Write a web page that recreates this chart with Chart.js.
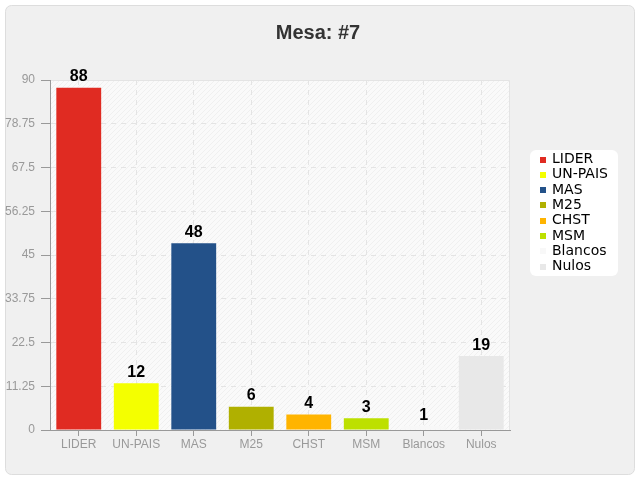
<!DOCTYPE html>
<html>
<head>
<meta charset="utf-8">
<script src="https://cdn.jsdelivr.net/npm/chart.js@4"></script>
<style>
  html, body { margin: 0; padding: 0; background: #fff; }
  #wrap { width: 640px; height: 480px; }
</style>
</head>
<body>
<div id="wrap"><canvas id="myChart" width="640" height="480"></canvas></div>
<script>
const categories = ['LIDER', 'UN-PAIS', 'MAS', 'M25', 'CHST', 'MSM', 'Blancos', 'Nulos'];
const votes = [88, 12, 48, 6, 4, 3, 1, 19];
const barColors = ['#e02b22', '#f4ff00', '#235189', '#b0b000', '#ffb400', '#bde000', '#f8f8f8', '#e8e8e8'];
const yTicks = [0, 11.25, 22.5, 33.75, 45, 56.25, 67.5, 78.75, 90];
const chartTitle = 'Mesa: #7';

// frame, plot background, title and legend box
const backdrop = {
  id: 'backdrop',
  beforeDraw(chart) {
    const ctx = chart.ctx;
    const a = chart.chartArea;
    ctx.save();
    ctx.fillStyle = '#ffffff';
    ctx.fillRect(0, 0, chart.width, chart.height);
    ctx.beginPath();
    ctx.roundRect(5.5, 5.5, 629, 469, 6);
    ctx.fillStyle = '#f0f0f0';
    ctx.fill();
    ctx.strokeStyle = '#dddddd';
    ctx.stroke();
    // title centred on the whole chart
    ctx.font = 'bold 20px "Liberation Sans", sans-serif';
    ctx.fillStyle = '#333';
    ctx.textAlign = 'center';
    ctx.textBaseline = 'middle';
    ctx.fillText(chartTitle, 318, 33);
    // plot area with hatch
    ctx.fillStyle = '#fafafa';
    ctx.fillRect(a.left, a.top, a.right - a.left, a.bottom - a.top);
    ctx.beginPath();
    ctx.rect(a.left, a.top, a.right - a.left, a.bottom - a.top);
    ctx.clip();
    ctx.strokeStyle = '#f0f0f0';
    ctx.lineWidth = 1;
    const h = a.bottom - a.top;
    for (let x = a.left - h; x < a.right; x += 5) {
      ctx.beginPath();
      ctx.moveTo(x, a.bottom);
      ctx.lineTo(x + h, a.top);
      ctx.stroke();
    }
    ctx.restore();
    ctx.save();
    ctx.strokeStyle = '#e4e4e4';
    ctx.beginPath();
    ctx.moveTo(a.left, a.top + 0.5);
    ctx.lineTo(a.right - 0.5, a.top + 0.5);
    ctx.lineTo(a.right - 0.5, a.bottom);
    ctx.stroke();
    ctx.restore();
  },
  afterDraw(chart) {
    // legend on the right
    const ctx = chart.ctx;
    ctx.save();
    ctx.beginPath();
    ctx.roundRect(530, 150, 88, 126, 6);
    ctx.fillStyle = '#ffffff';
    ctx.fill();
    ctx.font = '14px "DejaVu Sans", sans-serif';
    ctx.textBaseline = 'middle';
    categories.forEach((c, i) => {
      const y = 159.5 + i * 15.3;
      ctx.fillStyle = barColors[i];
      ctx.fillRect(540, Math.round(y) - 3, 6, 6);
      ctx.fillStyle = '#000';
      ctx.fillText(c, 552, y);
    });
    ctx.restore();
  }
};

// numbers above bars
const valueLabels = {
  id: 'valueLabels',
  afterDatasetsDraw(chart) {
    const ctx = chart.ctx;
    const meta = chart.getDatasetMeta(0);
    ctx.save();
    ctx.font = 'bold 16px "Liberation Sans", sans-serif';
    ctx.fillStyle = '#000';
    ctx.textAlign = 'center';
    ctx.textBaseline = 'bottom';
    meta.data.forEach((bar, i) => {
      ctx.fillText(votes[i], bar.x, bar.y - 3);
    });
    ctx.restore();
  }
};

const chart = new Chart(document.querySelector('#myChart'), {
  type: 'bar',
  data: {
    labels: categories,
    datasets: [{
      label: 'Mesa',
      data: votes,
      backgroundColor: barColors,
      borderWidth: 0,
      categoryPercentage: 1,
      barPercentage: 0.78
    }]
  },
  options: {
    responsive: false,
    animation: false,
    layout: { padding: { left: 0, right: 130, top: 80, bottom: 30 } },
    plugins: {
      title: { display: false },
      legend: { display: false },
      tooltip: { enabled: false }
    },
    scales: {
      x: {
        offset: true,
        afterFit: (s) => { s.height = 20; },
        grid: {
          offset: false,
          color: '#e4e4e4',
          tickColor: '#999',
          tickLength: 6,
          tickBorderDash: []
        },
        border: { color: '#999', dash: [5, 5] },
        ticks: {
          color: '#999',
          font: { family: '"Liberation Sans", sans-serif', size: 12 },
          padding: 1
        }
      },
      y: {
        min: 0,
        max: 90,
        afterBuildTicks: (axis) => { axis.ticks = yTicks.map(v => ({ value: v })); },
        afterFit: (s) => { s.width = 50; },
        grid: {
          color: '#e4e4e4',
          tickColor: '#999',
          tickLength: 9,
          tickBorderDash: []
        },
        border: { color: '#999', dash: [5, 5] },
        ticks: {
          color: '#999',
          font: { family: '"Liberation Sans", sans-serif', size: 12 },
          padding: 6,
          callback: (v) => String(v)
        }
      }
    }
  },
  plugins: [backdrop, valueLabels]
});
</script>
</body>
</html>
